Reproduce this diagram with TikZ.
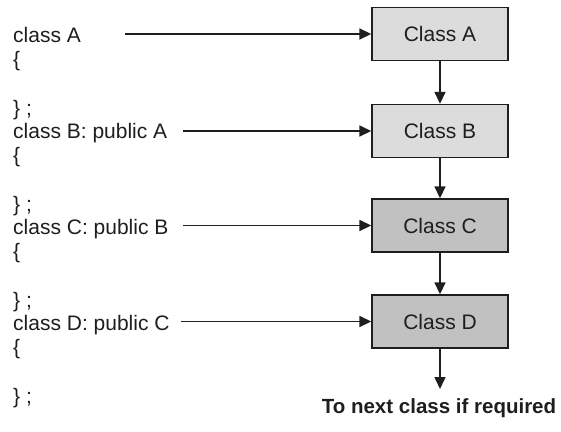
\documentclass[tikz,border=0pt]{standalone}
\usepackage{fontspec}
\setmainfont{Liberation Sans}
\usetikzlibrary{arrows.meta}
\definecolor{lightbox}{HTML}{DCDCDC}
\definecolor{darkbox}{HTML}{C1C1C1}
\definecolor{ink}{HTML}{1E1E1E}
\begin{document}
\begin{tikzpicture}[x=1pt,y=-1pt,
  classbox/.style={draw=ink,line width=1.4pt,minimum width=136pt,minimum height=53pt,inner sep=0pt,
    font=\fontsize{21}{24}\selectfont,text=ink},
  code/.style={anchor=base west,inner sep=0pt,font=\fontsize{21}{24}\selectfont,text=ink},
  conn/.style={draw=ink,line width=1.6pt,-{Triangle[length=12pt,width=11pt]}}]
\useasboundingbox (0,0) rectangle (561,431);
% boxes
\node[classbox,fill=lightbox] (A) at (440,34) {Class A};
\node[classbox,fill=lightbox] (B) at (440,131) {Class B};
\node[classbox,fill=darkbox] (C) at (440,225.5) {Class C};
\node[classbox,fill=darkbox] (D) at (440,321.5) {Class D};
% code text
\node[code] (ca) at (13,42) {class A};
\node[code] (oa) at (13,66) {\{};
\node[code] (ea) at (13,115) {\} ;};
\node[code] (cb) at (13,138) {class B: public A};
\node[code] (ob) at (13,162) {\{};
\node[code] (eb) at (13,211) {\} ;};
\node[code] (cc) at (13,234) {class C: public B};
\node[code] (oc) at (13,258) {\{};
\node[code] (ec) at (13,307) {\} ;};
\node[code] (cd) at (13,330) {class D: public C};
\node[code] (od) at (13,354) {\{};
\node[code] (ed) at (13,403) {\} ;};
% start coordinates of horizontal arrows
\coordinate (sa) at (125,34);
\coordinate (sb) at (183,131);
\coordinate (sc) at (183,225.5);
\coordinate (sd) at (181,321.5);
\draw[conn] (sa) -- (A.west);
\draw[conn] (sb) -- (B.west);
\draw[conn] (sc) -- (C.west);
\draw[conn] (sd) -- (D.west);
% vertical arrows
\draw[conn] (A.south) -- (B.north);
\draw[conn] (B.south) -- (C.north);
\draw[conn] (C.south) -- (D.north);
\node[anchor=base,inner sep=0pt,font=\bfseries\fontsize{20.5}{24}\selectfont,text=ink] (next) at (439,413) {To next class if required};
\coordinate (endD) at (440,389);
\draw[conn] (D.south) -- (endD);
\end{tikzpicture}
\end{document}
